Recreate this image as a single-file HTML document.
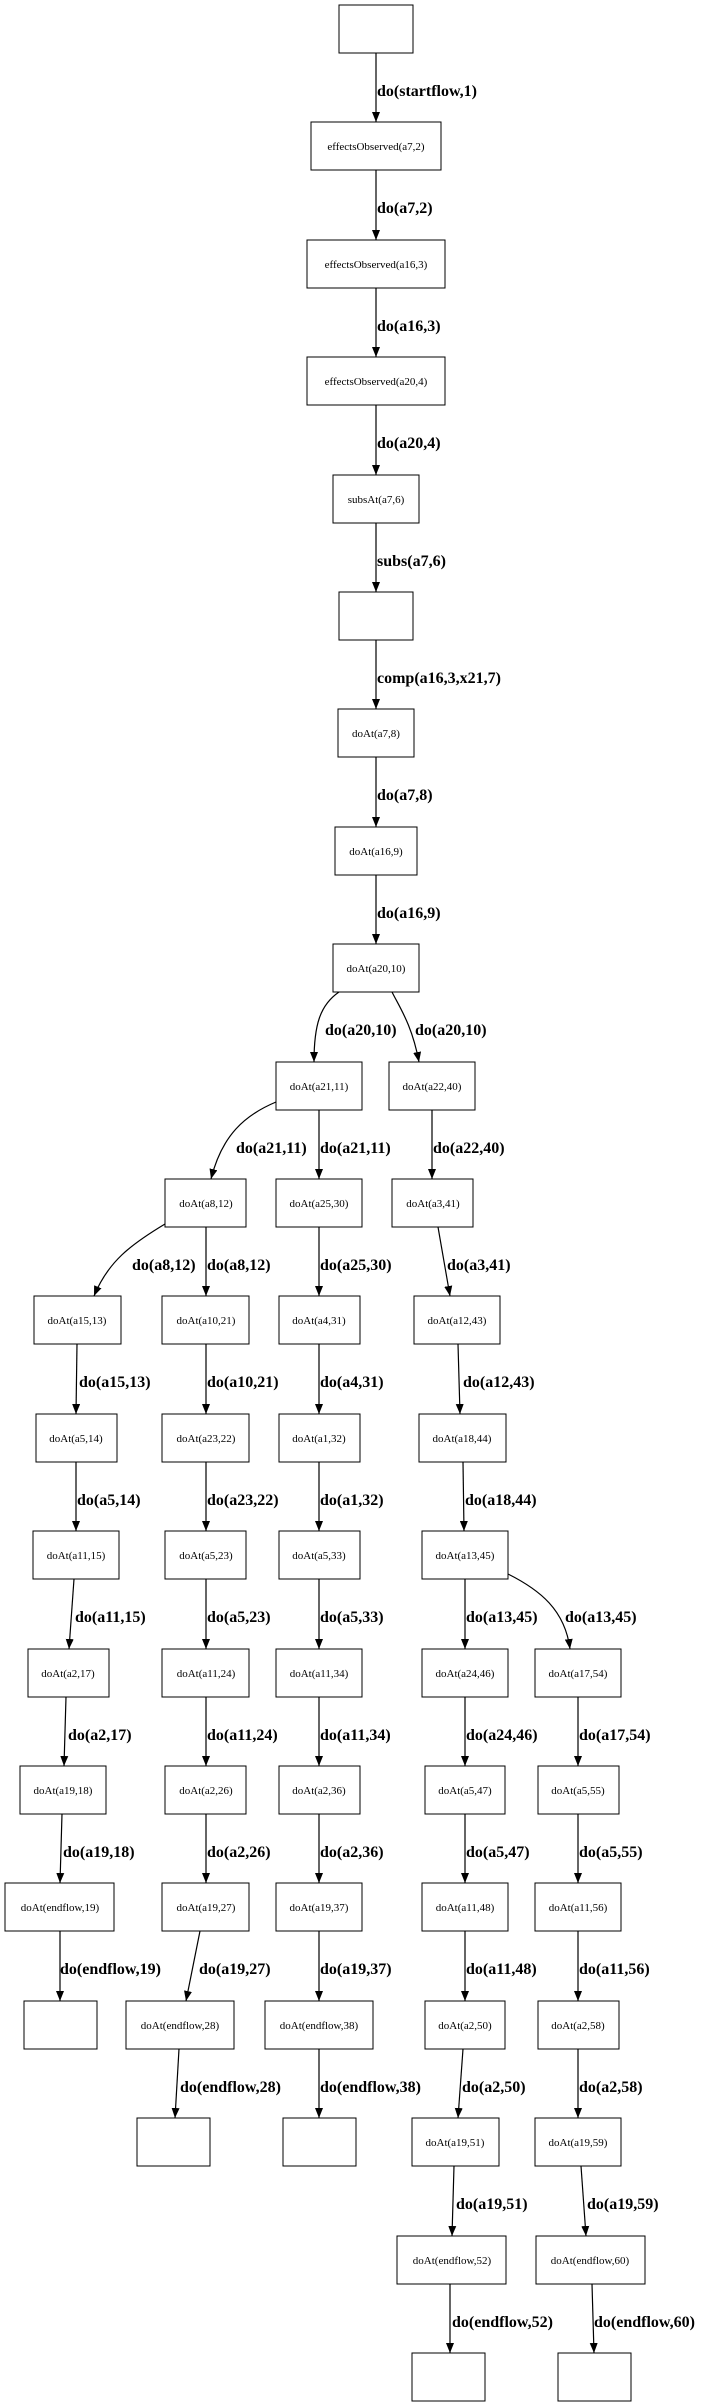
<!DOCTYPE html>
<html><head><meta charset="utf-8"><style>
html,body{margin:0;padding:0;background:#fff;}
svg{display:block;}
.n{fill:#fff;stroke:#000;stroke-width:1;}
.t{font-family:"Liberation Serif",serif;font-size:11px;text-anchor:middle;}
.l{font-family:"Liberation Serif",serif;font-size:16px;font-weight:bold;}
.e{fill:none;stroke:#000;stroke-width:1.2;}
</style></head><body>
<svg width="704" height="2405" viewBox="0 0 704 2405" xmlns="http://www.w3.org/2000/svg">
<defs><marker id="a" markerWidth="10" markerHeight="8" refX="10" refY="4" orient="auto" markerUnits="userSpaceOnUse"><path d="M0,0 L10,4 L0,8 z" fill="#000"/></marker></defs>
<g class="e" marker-end="url(#a)">
<path d="M376,53 L376,122"/><path d="M376,170 L376,240"/><path d="M376,288 L376,357"/><path d="M376,405 L376,475"/>
<path d="M376,523 L376,592"/><path d="M376,640 L376,709"/><path d="M376,757 L376,827"/><path d="M376,875 L376,944"/>
<path d="M339,992 C320,1005 314,1025 314,1062"/><path d="M392,992 C400,1008 412,1025 419,1062"/>
<path d="M276,1102 C245,1115 222,1135 211,1179"/><path d="M319,1110 L319,1179"/><path d="M432,1110 L432,1179"/>
<path d="M165,1224 C130,1245 108,1262 94,1296"/><path d="M206,1227 L206,1296"/><path d="M319,1227 L319,1296"/><path d="M438,1227 L450,1296"/>
<path d="M77,1344 L76,1414"/><path d="M206,1344 L206,1414"/><path d="M319,1344 L319,1414"/><path d="M458,1344 L460,1414"/>
<path d="M76,1462 L76,1531"/><path d="M206,1462 L206,1531"/><path d="M319,1462 L319,1531"/><path d="M463,1462 L464,1531"/>
<path d="M74,1579 L69,1649"/><path d="M206,1579 L206,1649"/><path d="M319,1579 L319,1649"/><path d="M465,1579 L465,1649"/><path d="M508,1574 C540,1590 565,1610 570,1649"/>
<path d="M66,1697 L64,1766"/><path d="M206,1697 L206,1766"/><path d="M319,1697 L319,1766"/><path d="M465,1697 L465,1766"/><path d="M578,1697 L578,1766"/>
<path d="M62,1814 L60,1883"/><path d="M206,1814 L206,1883"/><path d="M319,1814 L319,1883"/><path d="M465,1814 L465,1883"/><path d="M578,1814 L578,1883"/>
<path d="M60,1931 L60,2001"/><path d="M200,1931 L186,2001"/><path d="M319,1931 L319,2001"/><path d="M465,1931 L465,2001"/><path d="M578,1931 L578,2001"/>
<path d="M179,2049 L175,2118"/><path d="M319,2049 L319,2118"/><path d="M463,2049 L458,2118"/><path d="M578,2049 L578,2118"/>
<path d="M454,2166 L452,2236"/><path d="M581,2166 L586,2236"/>
<path d="M450,2284 L450,2353"/><path d="M592,2284 L594,2353"/>
</g>
<g class="n">
<rect x="339" y="5" width="74" height="48"/>
<rect x="311" y="122" width="130" height="48"/>
<rect x="307" y="240" width="138" height="48"/>
<rect x="307" y="357" width="138" height="48"/>
<rect x="333" y="475" width="86" height="48"/>
<rect x="339" y="592" width="74" height="48"/>
<rect x="338" y="709" width="76" height="48"/>
<rect x="335" y="827" width="82" height="48"/>
<rect x="333" y="944" width="86" height="48"/>
<rect x="276" y="1062" width="86" height="48"/><rect x="389" y="1062" width="86" height="48"/>
<rect x="165" y="1179" width="81" height="48"/><rect x="276" y="1179" width="86" height="48"/><rect x="392" y="1179" width="81" height="48"/>
<rect x="34" y="1296" width="87" height="48"/><rect x="162" y="1296" width="87" height="48"/><rect x="279" y="1296" width="81" height="48"/><rect x="414" y="1296" width="86" height="48"/>
<rect x="36" y="1414" width="81" height="48"/><rect x="162" y="1414" width="87" height="48"/><rect x="279" y="1414" width="81" height="48"/><rect x="419" y="1414" width="87" height="48"/>
<rect x="33" y="1531" width="86" height="48"/><rect x="165" y="1531" width="81" height="48"/><rect x="279" y="1531" width="81" height="48"/><rect x="422" y="1531" width="86" height="48"/>
<rect x="28" y="1649" width="81" height="48"/><rect x="162" y="1649" width="87" height="48"/><rect x="276" y="1649" width="86" height="48"/><rect x="422" y="1649" width="86" height="48"/><rect x="535" y="1649" width="86" height="48"/>
<rect x="20" y="1766" width="86" height="48"/><rect x="165" y="1766" width="81" height="48"/><rect x="279" y="1766" width="81" height="48"/><rect x="425" y="1766" width="80" height="48"/><rect x="538" y="1766" width="81" height="48"/>
<rect x="5" y="1883" width="109" height="48"/><rect x="162" y="1883" width="87" height="48"/><rect x="276" y="1883" width="86" height="48"/><rect x="422" y="1883" width="86" height="48"/><rect x="535" y="1883" width="86" height="48"/>
<rect x="24" y="2001" width="73" height="48"/><rect x="126" y="2001" width="108" height="48"/><rect x="265" y="2001" width="108" height="48"/><rect x="425" y="2001" width="80" height="48"/><rect x="538" y="2001" width="81" height="48"/>
<rect x="137" y="2118" width="73" height="48"/><rect x="283" y="2118" width="73" height="48"/><rect x="412" y="2118" width="87" height="48"/><rect x="535" y="2118" width="86" height="48"/>
<rect x="397" y="2236" width="109" height="48"/><rect x="536" y="2236" width="109" height="48"/>
<rect x="412" y="2353" width="73" height="48"/><rect x="558" y="2353" width="73" height="48"/>
</g>
<g class="t">
<text x="376" y="150">effectsObserved(a7,2)</text>
<text x="376" y="268">effectsObserved(a16,3)</text>
<text x="376" y="385">effectsObserved(a20,4)</text>
<text x="376" y="503">subsAt(a7,6)</text>
<text x="376" y="737">doAt(a7,8)</text>
<text x="376" y="855">doAt(a16,9)</text>
<text x="376" y="972">doAt(a20,10)</text>
<text x="319" y="1090">doAt(a21,11)</text><text x="432" y="1090">doAt(a22,40)</text>
<text x="206" y="1207">doAt(a8,12)</text><text x="319" y="1207">doAt(a25,30)</text><text x="433" y="1207">doAt(a3,41)</text>
<text x="77" y="1324">doAt(a15,13)</text><text x="206" y="1324">doAt(a10,21)</text><text x="319" y="1324">doAt(a4,31)</text><text x="457" y="1324">doAt(a12,43)</text>
<text x="76" y="1442">doAt(a5,14)</text><text x="206" y="1442">doAt(a23,22)</text><text x="319" y="1442">doAt(a1,32)</text><text x="462" y="1442">doAt(a18,44)</text>
<text x="76" y="1559">doAt(a11,15)</text><text x="206" y="1559">doAt(a5,23)</text><text x="319" y="1559">doAt(a5,33)</text><text x="465" y="1559">doAt(a13,45)</text>
<text x="68" y="1677">doAt(a2,17)</text><text x="206" y="1677">doAt(a11,24)</text><text x="319" y="1677">doAt(a11,34)</text><text x="465" y="1677">doAt(a24,46)</text><text x="578" y="1677">doAt(a17,54)</text>
<text x="63" y="1794">doAt(a19,18)</text><text x="206" y="1794">doAt(a2,26)</text><text x="319" y="1794">doAt(a2,36)</text><text x="465" y="1794">doAt(a5,47)</text><text x="578" y="1794">doAt(a5,55)</text>
<text x="60" y="1911">doAt(endflow,19)</text><text x="206" y="1911">doAt(a19,27)</text><text x="319" y="1911">doAt(a19,37)</text><text x="465" y="1911">doAt(a11,48)</text><text x="578" y="1911">doAt(a11,56)</text>
<text x="180" y="2029">doAt(endflow,28)</text><text x="319" y="2029">doAt(endflow,38)</text><text x="465" y="2029">doAt(a2,50)</text><text x="578" y="2029">doAt(a2,58)</text>
<text x="455" y="2146">doAt(a19,51)</text><text x="578" y="2146">doAt(a19,59)</text>
<text x="452" y="2264">doAt(endflow,52)</text><text x="590" y="2264">doAt(endflow,60)</text>
</g>
<g class="l">
<text x="377" y="96">do(startflow,1)</text>
<text x="377" y="213">do(a7,2)</text>
<text x="377" y="331">do(a16,3)</text>
<text x="377" y="448">do(a20,4)</text>
<text x="377" y="566">subs(a7,6)</text>
<text x="377" y="683">comp(a16,3,x21,7)</text>
<text x="377" y="800">do(a7,8)</text>
<text x="377" y="918">do(a16,9)</text>
<text x="325" y="1035">do(a20,10)</text><text x="415" y="1035">do(a20,10)</text>
<text x="236" y="1153">do(a21,11)</text><text x="320" y="1153">do(a21,11)</text><text x="433" y="1153">do(a22,40)</text>
<text x="132" y="1270">do(a8,12)</text><text x="207" y="1270">do(a8,12)</text><text x="320" y="1270">do(a25,30)</text><text x="447" y="1270">do(a3,41)</text>
<text x="79" y="1387">do(a15,13)</text><text x="207" y="1387">do(a10,21)</text><text x="320" y="1387">do(a4,31)</text><text x="463" y="1387">do(a12,43)</text>
<text x="77" y="1505">do(a5,14)</text><text x="207" y="1505">do(a23,22)</text><text x="320" y="1505">do(a1,32)</text><text x="465" y="1505">do(a18,44)</text>
<text x="75" y="1622">do(a11,15)</text><text x="207" y="1622">do(a5,23)</text><text x="320" y="1622">do(a5,33)</text><text x="466" y="1622">do(a13,45)</text><text x="565" y="1622">do(a13,45)</text>
<text x="68" y="1740">do(a2,17)</text><text x="207" y="1740">do(a11,24)</text><text x="320" y="1740">do(a11,34)</text><text x="466" y="1740">do(a24,46)</text><text x="579" y="1740">do(a17,54)</text>
<text x="63" y="1857">do(a19,18)</text><text x="207" y="1857">do(a2,26)</text><text x="320" y="1857">do(a2,36)</text><text x="466" y="1857">do(a5,47)</text><text x="579" y="1857">do(a5,55)</text>
<text x="60" y="1974">do(endflow,19)</text><text x="199" y="1974">do(a19,27)</text><text x="320" y="1974">do(a19,37)</text><text x="466" y="1974">do(a11,48)</text><text x="579" y="1974">do(a11,56)</text>
<text x="180" y="2092">do(endflow,28)</text><text x="320" y="2092">do(endflow,38)</text><text x="462" y="2092">do(a2,50)</text><text x="579" y="2092">do(a2,58)</text>
<text x="456" y="2209">do(a19,51)</text><text x="587" y="2209">do(a19,59)</text>
<text x="452" y="2327">do(endflow,52)</text><text x="594" y="2327">do(endflow,60)</text>
</g>
</svg>
</body></html>
